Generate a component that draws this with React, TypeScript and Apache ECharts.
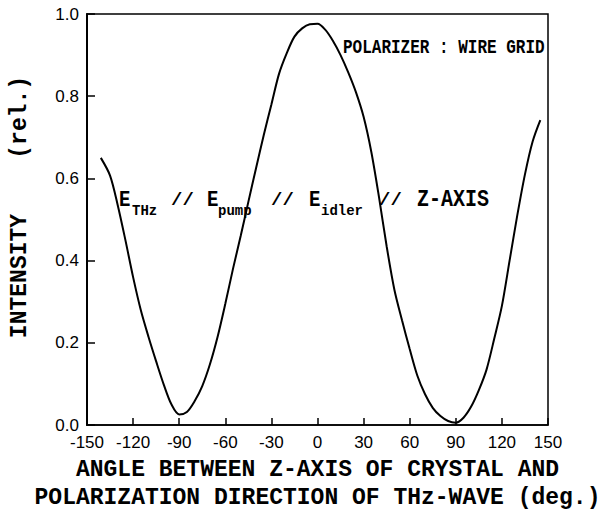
import React, { useEffect, useRef } from "react";
import * as echarts from "echarts";

const angles = [-141, -135, -130, -125, -120, -115, -110, -105, -100, -95, -90, -85, -80, -75, -70, -65, -60, -55, -50, -45, -40, -35, -30, -25, -20, -15, -10, -5, 0, 5, 10, 15, 20, 25, 30, 35, 40, 45, 50, 55, 60, 65, 70, 75, 80, 85, 90, 95, 100, 105, 110, 115, 120, 125, 130, 135, 140, 145];
const intensity = [0.65, 0.607, 0.535, 0.45, 0.36, 0.28, 0.215, 0.155, 0.098, 0.05, 0.026, 0.032, 0.058, 0.095, 0.148, 0.215, 0.295, 0.38, 0.46, 0.543, 0.625, 0.705, 0.78, 0.855, 0.905, 0.945, 0.965, 0.975, 0.976, 0.962, 0.935, 0.9, 0.858, 0.81, 0.75, 0.665, 0.555, 0.435, 0.33, 0.255, 0.185, 0.12, 0.075, 0.042, 0.022, 0.01, 0.006, 0.018, 0.045, 0.085, 0.135, 0.21, 0.29, 0.4, 0.51, 0.61, 0.69, 0.742];

const xTitle = "ANGLE BETWEEN Z-AXIS OF CRYSTAL AND\nPOLARIZATION DIRECTION OF THz-WAVE (deg.)";
const yTitle = "INTENSITY    (rel.)";
const noteTop = "POLARIZER : WIRE GRID";

const MONO = "'Liberation Mono', 'DejaVu Sans Mono', monospace";
const SANS = "'Liberation Sans', Arial, sans-serif";

function txt(text: string, x: number, y: number, size: number, scaleY = 1.15, weight = "bold") {
  return {
    type: "text",
    x,
    y,
    scaleY,
    style: {
      text,
      fontFamily: MONO,
      fontSize: size,
      fontWeight: weight,
      fill: "#000",
      align: "left",
      verticalAlign: "middle",
    },
  };
}

export default function App() {
  const ref = useRef<HTMLDivElement>(null);
  useEffect(() => {
    if (!ref.current) return;
    const chart = echarts.init(ref.current, undefined, { renderer: "svg" });
    const data = angles.map((a, i) => [a, intensity[i]]);
    chart.setOption({
      animation: false,
      backgroundColor: "#fff",
      grid: {
        left: 87,
        right: 56,
        top: 14,
        bottom: 89,
        show: true,
        borderColor: "#000",
        borderWidth: 1.5,
      },
      xAxis: {
        type: "value",
        min: -150,
        max: 150,
        interval: 30,
        splitLine: { show: false },
        axisLine: { onZero: false, lineStyle: { color: "#000", width: 1.5 } },
        axisTick: { inside: true, length: 7, lineStyle: { color: "#000", width: 1.5 } },
        axisLabel: { color: "#000", fontFamily: SANS, fontSize: 17, margin: 9 },
        name: xTitle,
        nameLocation: "middle",
        nameGap: 30,
        nameTextStyle: {
          color: "#000",
          fontFamily: MONO,
          fontSize: 23,
          fontWeight: "bold",
          lineHeight: 28,
        },
      },
      yAxis: {
        type: "value",
        min: 0,
        max: 1,
        interval: 0.2,
        splitLine: { show: false },
        axisLine: { show: true, onZero: false, lineStyle: { color: "#000", width: 2 } },
        axisTick: { show: true, inside: true, length: 8, lineStyle: { color: "#000", width: 1.5 } },
        axisLabel: {
          color: "#000",
          fontFamily: SANS,
          fontSize: 17,
          margin: 8,
          formatter: (v: number) => v.toFixed(1),
        },
      },
      graphic: [
        {
          type: "text",
          x: 20,
          y: 207,
          rotation: Math.PI / 2,
          style: {
            text: yTitle,
            fontFamily: MONO,
            fontSize: 23,
            fontWeight: "bold",
            fill: "#000",
            align: "center",
            verticalAlign: "middle",
          },
        },
        txt(noteTop, 343, 47, 16, 1.25),
        txt("E", 119, 200, 19, 1.2),
        txt("THz", 132, 211, 14, 1.1),
        txt("//", 171, 200, 19, 1.0),
        txt("E", 207, 200, 19, 1.2),
        txt("pump", 218, 211, 14, 1.1),
        txt("//", 271, 200, 19, 1.0),
        txt("E", 309, 200, 19, 1.2),
        txt("idler", 321, 211, 14, 1.1),
        txt("//", 379, 200, 19, 1.0),
        txt("Z-AXIS", 417, 200, 20, 1.2),
      ],
      series: [
        {
          type: "line",
          data,
          smooth: 0.3,
          showSymbol: false,
          lineStyle: { color: "#000", width: 2 },
        },
      ],
    });
    return () => chart.dispose();
  }, []);
  return (
    <div
      ref={ref}
      style={{ position: "absolute", left: 0, top: 0, width: 604, height: 517, background: "#fff" }}
    />
  );
}
